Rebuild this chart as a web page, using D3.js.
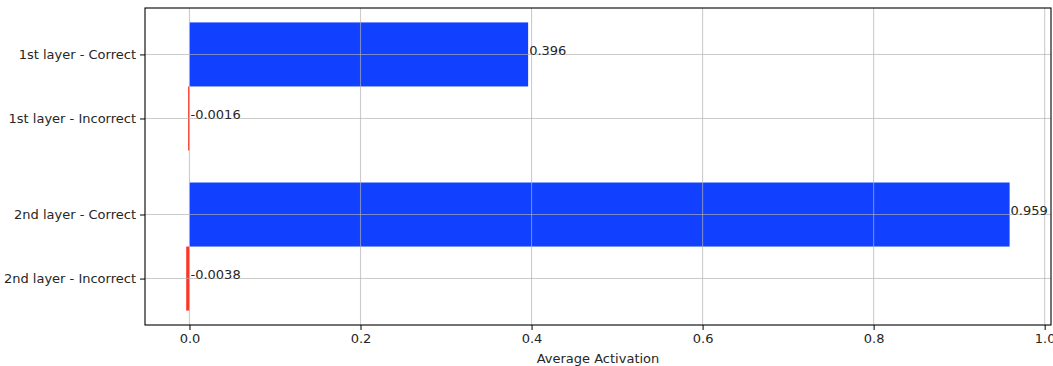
<!DOCTYPE html>
<html><head><meta charset="utf-8">
<script src="https://cdn.jsdelivr.net/npm/d3@7"></script>
<style>body{margin:0;background:#fff;}svg{display:block;font-family:"DejaVu Sans",sans-serif;}</style>
</head><body>
<svg id="c" width="1053" height="366"></svg>
<script>
const categories = ["1st layer - Correct","1st layer - Incorrect","2nd layer - Correct","2nd layer - Incorrect"];
const positions = [0, 0.4, 1, 1.4];
const values = [0.396, -0.0016, 0.959, -0.0038];
const valueLabels = ["0.396","-0.0016","0.959","-0.0038"];
const kinds = ["correct","incorrect","correct","incorrect"];
const xTicks = [0.0, 0.2, 0.4, 0.6, 0.8, 1.0];
const colors = {correct:"#1140ff", incorrect:"#ff3322"};

const svg = d3.select("#c");
const L=145, R=1051, T=8, B=325;
const barH = 0.4;
const x = d3.scaleLinear().domain([-0.052, 1.0074]).range([L, R]);
const y = d3.scaleLinear().domain([-0.29, 1.69]).range([T, B]);
const fs = 13;

// bars
svg.append("g").selectAll("rect").data(values).join("rect")
  .attr("x", d => x(Math.min(0,d)))
  .attr("width", d => Math.abs(x(d)-x(0)))
  .attr("y", (d,i) => y(positions[i]-barH/2))
  .attr("height", y(barH)-y(0))
  .attr("fill", (d,i) => colors[kinds[i]]);

// grid
const grid = svg.append("g").attr("stroke","#b0b0b0").attr("stroke-opacity",0.65).attr("stroke-width",1.1);
xTicks.forEach(t => grid.append("line").attr("x1",x(t)).attr("x2",x(t)).attr("y1",T).attr("y2",B));
positions.forEach(p => grid.append("line").attr("x1",L).attr("x2",R).attr("y1",y(p)).attr("y2",y(p)));

// value labels
svg.append("g").selectAll("text").data(values).join("text")
  .attr("x", d => x(Math.max(0,d)) + 1)
  .attr("y", (d,i) => y(positions[i]) + 0.5)
  .attr("font-size", fs).attr("fill","#262626")
  .text((d,i) => valueLabels[i]);

// axes
const xAxis = d3.axisBottom(x).tickValues(xTicks).tickFormat(d3.format(".1f")).tickSize(5).tickPadding(4);
const gx = svg.append("g").attr("transform",`translate(0,${B})`).call(xAxis);
gx.select(".domain").remove();
gx.selectAll("text").attr("font-size",fs).attr("font-family","DejaVu Sans").attr("fill","#262626");

const yAxis = d3.axisLeft(y).tickValues(positions).tickFormat((d,i)=>categories[i]).tickSize(5).tickPadding(4);
const gy = svg.append("g").attr("transform",`translate(${L},0)`).call(yAxis);
gy.select(".domain").remove();
gy.selectAll("text").attr("font-size",fs).attr("font-family","DejaVu Sans").attr("fill","#262626");

svg.append("rect").attr("x",L).attr("y",T).attr("width",R-L).attr("height",B-T)
  .attr("fill","none").attr("stroke","#000").attr("stroke-width",1.1);

svg.append("text").attr("x",(L+R)/2).attr("y",363).attr("text-anchor","middle")
  .attr("font-size",fs).attr("fill","#262626").text("Average Activation");
</script>
</body></html>
